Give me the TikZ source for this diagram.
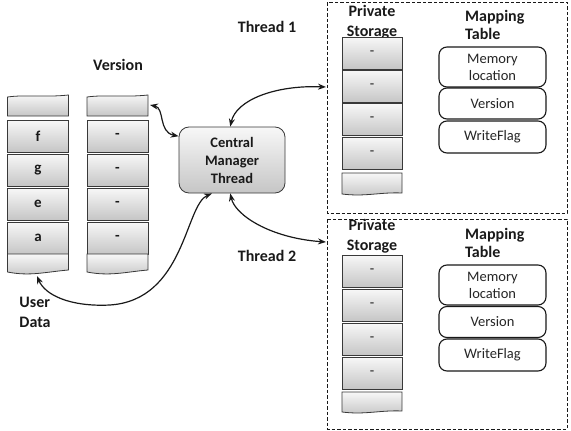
\documentclass[tikz,border=0pt]{standalone}
\usepackage{fontspec}
\setmainfont{Carlito}
\usetikzlibrary{arrows.meta,calc}
\begin{document}
\begin{tikzpicture}[x=1pt,y=-1pt,
  cell/.style={draw=gray!45!black, line width=0.8pt, top color=gray!6, bottom color=gray!45,
    minimum width=61pt, minimum height=32pt, inner sep=0pt, text=black!90,
    font=\bfseries\fontsize{15}{17}\selectfont},
  pcell/.style={cell, minimum width=60pt, font=\fontsize{14.5}{17}\selectfont},
  cellpath/.style={draw=gray!45!black, line width=0.8pt, top color=gray!6, bottom color=gray!45},
  maprow/.style={draw=black!90, line width=1.1pt, rounded corners=8pt, fill=white,
    minimum width=107pt, inner sep=0pt, align=center, text=black!85,
    font=\fontsize{14.5}{17}\selectfont},
  head/.style={font=\bfseries\fontsize{16}{19}\selectfont, inner sep=0pt, text=black!90},
  link/.style={line width=1.2pt, black!90, {Stealth[length=8pt,width=6pt]}-{Stealth[length=8pt,width=6pt]}},
  dashbox/.style={draw=black!90, line width=0.9pt, dash pattern=on 3.5pt off 2pt}]
\useasboundingbox (0,0) rectangle (571,431);

% user data column
\path[cellpath] (7.5,116) -- (7.5,97) .. controls (25,94.5) and (45,97.5) .. (68.5,95) -- (68.5,116) -- cycle;
\foreach \t [count=\i] in {f,g,e,a} \node[cell] (u\i) at (38,{102+\i*34}) {\t};
\path[cellpath] (7.5,254) -- (68.5,254) -- (68.5,270) .. controls (45,272) and (30,276.5) .. (7.5,272) -- cycle;
\coordinate (ubot) at (37,276);

% version column
\path[cellpath] (87,116) -- (87,97) .. controls (105,94.5) and (125,97.5) .. (148,95) -- (148,116) -- cycle;
\foreach \i in {1,...,4} \node[cell] (v\i) at (117.5,{102+\i*34}) {-};
\path[cellpath] (87,254) -- (148,254) -- (148,270) .. controls (125,272) and (110,276.5) .. (87,272) -- cycle;
\coordinate (vtop) at (150,105);

\node[head] (lver) at (118,65) {Version};
\node[head, align=left, font=\bfseries\fontsize{16}{20}\selectfont] (luser) at (35,312) {User\\Data};

% central manager
\node[draw=gray!45!black, line width=0.8pt, rounded corners=10pt, top color=gray!6, bottom color=gray!45,
  minimum width=106pt, minimum height=66pt, inner sep=0pt, align=center, text=black!90,
  font=\bfseries\fontsize{14.5}{18}\selectfont] (cmt) at (232,160) {Central\\Manager\\Thread};

\node[head] (th1) at (267,27) {Thread 1};
\node[head] (th2) at (267,256) {Thread 2};

% thread 1 box
\draw[dashbox] (327,2) rectangle (567,213);
\coordinate (t1in) at (326,87);
\node[head, align=center, font=\bfseries\fontsize{16}{20}\selectfont] (ps1) at (372,22) {Private\\Storage};
\node[head, align=left, anchor=west, font=\bfseries\fontsize{16}{18}\selectfont] (mt1) at (465,25) {Mapping\\Table};
\foreach \i in {1,...,4} \node[pcell] (p\i) at (372,{19.7+\i*33.3}) {-};
\path[cellpath] (342,173) -- (402,173) -- (402,193) .. controls (380,192) and (365,197) .. (342,194) -- cycle;
\node[maprow, minimum height=40pt] (m1a) at (492.5,67) {Memory\\location};
\node[maprow, minimum height=31pt] (m1b) at (492.5,103.5) {Version};
\node[maprow, minimum height=32pt] (m1c) at (492.5,137) {WriteFlag};

% thread 2 box
\draw[dashbox] (327,219) rectangle (567,429);
\coordinate (t2in) at (326,242);
\node[head, align=center, font=\bfseries\fontsize{16}{20}\selectfont] (ps2) at (372,236.5) {Private\\Storage};
\node[head, align=left, anchor=west, font=\bfseries\fontsize{16}{18}\selectfont] (mt2) at (465,243) {Mapping\\Table};
\foreach \i in {1,...,4} \node[pcell] (q\i) at (372,{237+\i*34}) {-};
\path[cellpath] (342,392) -- (402,392) -- (402,411) .. controls (380,410) and (365,415) .. (342,412) -- cycle;
\node[maprow, minimum height=40pt] (m2a) at (492.5,285) {Memory\\location};
\node[maprow, minimum height=31pt] (m2b) at (492.5,322) {Version};
\node[maprow, minimum height=32pt] (m2c) at (492.5,355) {WriteFlag};

% connectors
\draw[link] (vtop) .. controls (165,108) and (158,132) .. (cmt.156);
\draw[link] (cmt.93) .. controls (236,100) and (275,85) .. (t1in);
\draw[link] (cmt.267) .. controls (235,215) and (270,238) .. (t2in);
\draw[link] (cmt.239) .. controls (185,205) and (185,300) .. (110,305) .. controls (70,307) and (45,295) .. (ubot);
\end{tikzpicture}
\end{document}
